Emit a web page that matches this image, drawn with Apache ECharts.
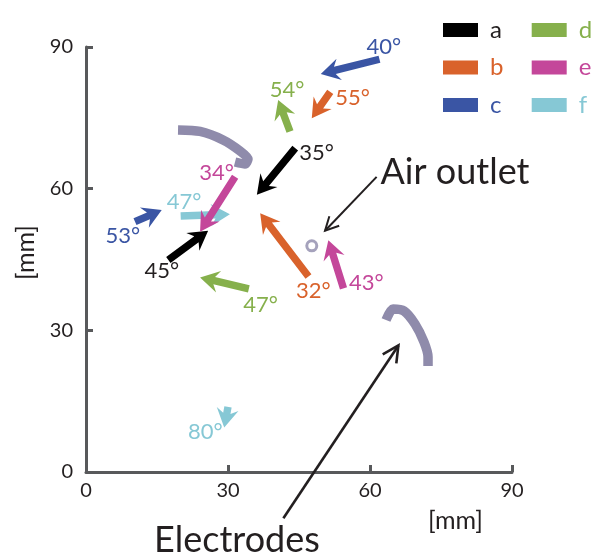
<!DOCTYPE html>
<html>
<head>
<meta charset="utf-8">
<script src="https://cdn.jsdelivr.net/npm/echarts@6/dist/echarts.min.js"></script>
<style>
  html, body { margin: 0; padding: 0; background: #ffffff; }
  #chart { width: 594px; height: 555px; }
</style>
</head>
<body>
<div id="chart"></div>
<script>
// ---------------- data ----------------
const categories = ['a', 'b', 'c', 'd', 'e', 'f'];
const axisTicks = [0, 30, 60, 90];

// arrows: [tailX, tailY, tipX, tipY] in mm
const arrowsA = [[44.2, 68.6, 36.1, 58.7], [17.4, 44.9, 25.8, 51.1]];
const arrowsB = [[51.6, 80.5, 47.7, 74.9], [47.0, 41.4, 36.8, 54.8]];
const arrowsC = [[62.0, 87.4, 49.6, 84.3], [10.35, 53.0, 16.0, 55.5]];
const arrowsD = [[43.1, 72.1, 40.6, 78.8], [34.4, 38.8, 24.1, 41.2]];
const arrowsE = [[31.5, 62.5, 24.1, 50.9], [54.4, 38.9, 51.2, 49.1]];
const arrowsF = [[20.0, 54.2, 30.4, 54.6], [30.0, 13.8, 29.2, 9.4]];

// angle labels: [x, y, text] in mm
const labelsA = [[48.7, 67.5, '35°'], [16.0, 42.6, '45°']];
const labelsB = [[56.3, 79.2, '55°'], [48.0, 38.3, '32°']];
const labelsC = [[62.9, 90.1, '40°'], [7.8, 49.9, '53°']];
const labelsD = [[42.5, 80.9, '54°'], [36.9, 35.4, '47°']];
const labelsE = [[27.6, 63.3, '34°'], [59.2, 40.0, '43°']];
const labelsF = [[20.7, 57.2, '47°'], [25.2, 8.4, '80°']];

// electrodes (centre lines) and air outlet, in mm
const electrodeUpper = [[19.44, 72.43], [24.09, 72.11], [28.95, 70.31], [32.54, 67.98], [34.23, 66.29], [33.59, 65.23], [31.48, 65.65]];
const electrodeLower = [[63.38, 32.19], [64.86, 34.52], [67.19, 34.10], [69.51, 31.34], [71.41, 27.53], [72.26, 24.35], [72.26, 22.45]];
const airOutlet = [[47.7, 47.9]];

// annotation pointers: [tailX, tailY, tipX, tipY]
const pointerAir = [[61.4, 62.5, 50.5, 51.1]];
const pointerElectrodes = [[41.7, -9.8, 66.0, 26.8]];

// ---------------- styles ----------------
const FONT = 'Lato, "Open Sans", sans-serif';
const palette = ['#000000', '#d9622b', '#3a55a4', '#86b04c', '#c4479a', '#86c8d5'];
const legendText = ['#231f20', '#d9622b', '#3a55a4', '#86b04c', '#c4479a', '#86c8d5'];
const seriesZ = [3, 3, 3, 3, 3.5, 3];
const electrodeColor = '#8f8bab';
const axisColor = '#58595b';
const textColor = '#231f20';

const arrowSets = [arrowsA, arrowsB, arrowsC, arrowsD, arrowsE, arrowsF];
const labelSets = [labelsA, labelsB, labelsC, labelsD, labelsE, labelsF];

function arrowPoints(p0, p1) {
  const dx = p1[0] - p0[0], dy = p1[1] - p0[1];
  const len = Math.sqrt(dx * dx + dy * dy) || 1;
  const ux = dx / len, uy = dy / len;
  const nx = -uy, ny = ux;
  const L = Math.min(19, len), W = 11, hw = 3.7, notch = 4.5;
  const bx = p1[0] - ux * L, by = p1[1] - uy * L;
  const jx = p1[0] - ux * (L - notch), jy = p1[1] - uy * (L - notch);
  return [
    [p0[0] + nx * hw, p0[1] + ny * hw],
    [jx + nx * hw, jy + ny * hw],
    [bx + nx * W, by + ny * W],
    [p1[0], p1[1]],
    [bx - nx * W, by - ny * W],
    [jx - nx * hw, jy - ny * hw],
    [p0[0] - nx * hw, p0[1] - ny * hw]
  ];
}

function renderArrow(params, api) {
  const p0 = api.coord([api.value(0), api.value(1)]);
  const p1 = api.coord([api.value(2), api.value(3)]);
  return {
    type: 'polygon',
    shape: { points: arrowPoints(p0, p1) },
    style: { fill: api.visual('color') }
  };
}

function makeLabelRenderer(set, color) {
  return function (params, api) {
    const p = api.coord([api.value(0), api.value(1)]);
    return {
      type: 'text', x: p[0], y: p[1],
      style: {
        text: set[params.dataIndex][2], fill: color, fontSize: 22, fontFamily: FONT,
        align: 'center', verticalAlign: 'middle'
      }
    };
  };
}

function makePointerRenderer(armLen, lineW) {
  return function (params, api) {
    const p0 = api.coord([api.value(0), api.value(1)]);
    const p1 = api.coord([api.value(2), api.value(3)]);
    const dx = p1[0] - p0[0], dy = p1[1] - p0[1];
    const ang = Math.atan2(dy, dx);
    const a = 27 * Math.PI / 180;
    const l1 = [p1[0] - armLen * Math.cos(ang - a), p1[1] - armLen * Math.sin(ang - a)];
    const l2 = [p1[0] - armLen * Math.cos(ang + a), p1[1] - armLen * Math.sin(ang + a)];
    const st = { stroke: '#231f20', lineWidth: lineW, fill: null };
    return {
      type: 'group',
      children: [
        { type: 'line', shape: { x1: p0[0], y1: p0[1], x2: p1[0], y2: p1[1] }, style: st },
        { type: 'polyline', shape: { points: [l1, p1, l2] }, style: st }
      ]
    };
  };
}

const series = [];
// electrodes
[electrodeUpper, electrodeLower].forEach(function (pts, i) {
  series.push({
    name: 'electrode' + i, type: 'line', data: pts, symbol: 'none', smooth: 0.25,
    lineStyle: { color: electrodeColor, width: 9.5, cap: 'butt', join: 'round' },
    silent: true, z: 1
  });
});
// air outlet ring
series.push({
  name: 'outlet', type: 'scatter', data: airOutlet, symbol: 'circle', symbolSize: 10,
  itemStyle: { color: '#ffffff', borderColor: electrodeColor, borderWidth: 3 },
  silent: true, z: 2
});
// arrows per category
categories.forEach(function (c, i) {
  series.push({
    name: c, type: 'custom', data: arrowSets[i], renderItem: renderArrow,
    encode: { x: [0, 2], y: [1, 3] },
    itemStyle: { color: palette[i] }, silent: true, z: seriesZ[i]
  });
  series.push({
    name: c + '-labels', type: 'custom',
    data: labelSets[i].map(function (d) { return [d[0], d[1]]; }),
    renderItem: makeLabelRenderer(labelSets[i], legendText[i]),
    encode: { x: 0, y: 1 }, clip: false,
    silent: true, z: 4
  });
});
// pointers
series.push({
  name: 'ptrAir', type: 'custom', data: pointerAir, renderItem: makePointerRenderer(15, 2),
  encode: { x: [0, 2], y: [1, 3] }, silent: true, z: 5
});
series.push({
  name: 'ptrElec', type: 'custom', data: pointerElectrodes, renderItem: makePointerRenderer(18, 2.6),
  encode: { x: [0, 2], y: [1, 3] }, silent: true, z: 5, clip: false
});

function legendFor(items, left) {
  return {
    orient: 'vertical', left: left, top: 18, padding: 0,
    itemWidth: 35, itemHeight: 14, itemGap: 13.5, icon: 'rect', selectedMode: false,
    textStyle: { fontSize: 24, fontFamily: FONT, lineHeight: 24, padding: [0, 0, 0, 7] },
    data: items.map(function (c) {
      return { name: c, textStyle: { color: legendText[categories.indexOf(c)], fontSize: 24, fontFamily: FONT, lineHeight: 24, padding: [0, 0, 0, 7] } };
    })
  };
}

const axisCommon = {
  type: 'value', min: axisTicks[0], max: axisTicks[axisTicks.length - 1],
  interval: axisTicks[1] - axisTicks[0],
  axisLine: { show: true, lineStyle: { color: axisColor, width: 3 } },
  axisTick: { show: true, inside: true, length: 7, lineStyle: { color: axisColor, width: 3 } },
  splitLine: { show: false },
  axisLabel: { color: textColor, fontSize: 20, fontFamily: FONT }
};

const option = {
  animation: false,
  backgroundColor: '#ffffff',
  grid: { left: 86, right: 82, top: 47, bottom: 83, containLabel: false, outerBoundsMode: 'none' },
  xAxis: Object.assign({}, axisCommon, {
    axisLabel: Object.assign({}, axisCommon.axisLabel, { margin: 9 })
  }),
  yAxis: Object.assign({}, axisCommon, {
    axisLabel: Object.assign({}, axisCommon.axisLabel, { margin: 13 }),
    name: '[mm]', nameLocation: 'middle', nameGap: 48, nameRotate: 90,
    nameTextStyle: { color: textColor, fontSize: 25, fontFamily: FONT, padding: [0, 0, 0, 14] }
  }),
  legend: [legendFor(categories.slice(0, 3), 443), legendFor(categories.slice(3), 531.7)],
  graphic: [
    { type: 'text', left: 428, top: 508, style: { text: '[mm]', fill: textColor, fontSize: 25, fontFamily: FONT } },
    { type: 'text', x: 455, y: 172, style: { text: 'Air outlet', fill: textColor, fontSize: 36, fontFamily: FONT, align: 'center', verticalAlign: 'middle' } },
    { type: 'text', x: 237, y: 540, style: { text: 'Electrodes', fill: textColor, fontSize: 36, fontFamily: FONT, align: 'center', verticalAlign: 'middle' } }
  ],
  series: series
};

const chart = echarts.init(document.getElementById('chart'), null, { renderer: 'canvas' });
chart.setOption(option);
</script>
</body>
</html>
